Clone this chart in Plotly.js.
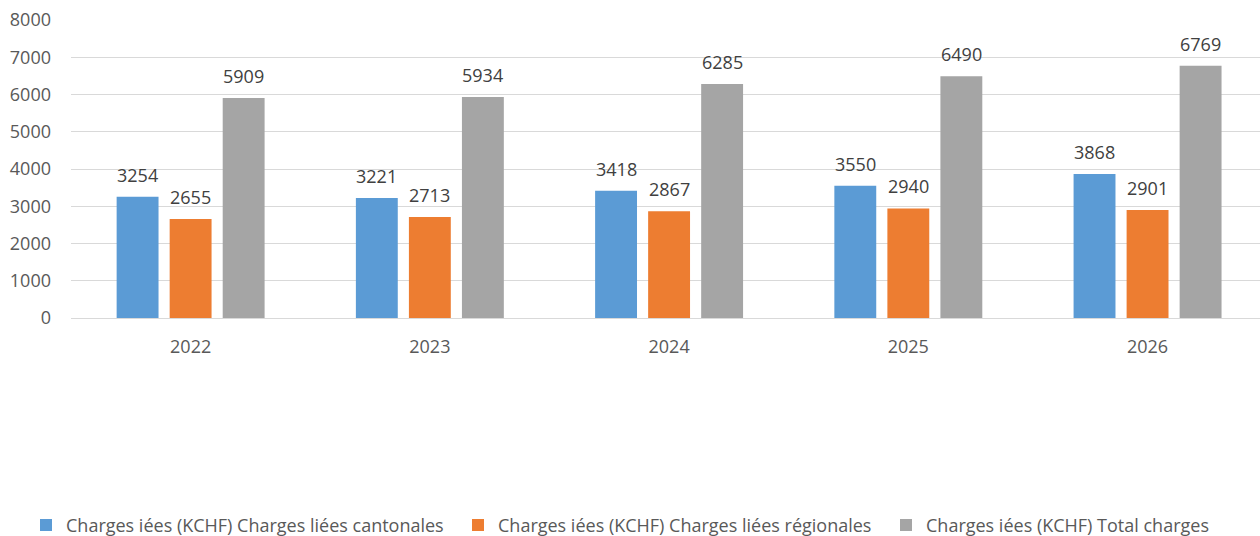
<!DOCTYPE html>
<html>
<head>
<meta charset="utf-8">
<script src="https://cdn.plot.ly/plotly-3.0.1.min.js"></script>
<style>html,body{margin:0;padding:0;background:#fff;}#chart{width:1260px;height:536px;}</style>
</head>
<body>
<div id="chart"></div>
<script>
const categories = ["2022", "2023", "2024", "2025", "2026"];
const cantonales = [3254, 3221, 3418, 3550, 3868];
const regionales = [2655, 2713, 2867, 2940, 2901];
const totalCharges = [5909, 5934, 6285, 6490, 6769];
const seriesNames = [
  "Charges iées (KCHF) Charges liées cantonales",
  "Charges iées (KCHF) Charges liées régionales",
  "Charges iées (KCHF) Total charges"
];
const colors = ["#5b9bd5", "#ed7d31", "#a5a5a5"];
const FONT = "Open Sans, Noto Sans, sans-serif";

const BARGAP = 0.335;
const series = [cantonales, regionales, totalCharges];
const legendIds = ["legend", "legend2", "legend3"];
const traces = series.map((vals, i) => ({
  type: "bar",
  x: categories,
  y: vals,
  name: seriesNames[i],
  legend: legendIds[i],
  marker: {color: colors[i]},
  hoverinfo: "none"
}));

// data labels built from the series arrays, positioned via the category axis
const slot = (1 - BARGAP) / series.length;
const annotations = [];
series.forEach((vals, i) => {
  vals.forEach((v, j) => {
    annotations.push({
      x: j + (i - (series.length - 1) / 2) * slot,
      y: v,
      xref: "x", yref: "y",
      text: String(v),
      showarrow: false,
      yanchor: "bottom",
      yshift: 8,
      font: {family: FONT, size: 18, color: "#404040"}
    });
  });
});

function legendAt(xpx) {
  return {
    orientation: "h",
    xref: "container", yref: "container",
    x: xpx / 1260, xanchor: "left",
    y: 0.02, yanchor: "middle",
    font: {family: FONT, size: 18, color: "#595959"},
    itemwidth: 30,
    bgcolor: "rgba(0,0,0,0)"
  };
}

const layout = {
  width: 1260,
  height: 536,
  margin: {l: 71, r: 0, t: 20, b: 218},
  paper_bgcolor: "#fff",
  plot_bgcolor: "#fff",
  font: {family: FONT, color: "#595959", size: 18},
  barmode: "group",
  bargap: BARGAP,
  bargroupgap: 0.21,
  showlegend: true,
  annotations: annotations,
  legend: legendAt(26),
  legend2: legendAt(458),
  legend3: legendAt(886),
  xaxis: {
    type: "category",
    range: [-0.5, 4.47],
    showgrid: false,
    showline: false,
    ticks: "",
    tickfont: {family: FONT, size: 18, color: "#595959"},
    ticklabelstandoff: 16
  },
  yaxis: {
    range: [0, 8000],
    dtick: 1000,
    showgrid: true,
    gridcolor: "#d9d9d9",
    gridwidth: 1,
    zeroline: true,
    zerolinecolor: "#d9d9d9",
    zerolinewidth: 1,
    showline: false,
    ticks: "",
    tickfont: {family: FONT, size: 18, color: "#595959"},
    ticklabelstandoff: 19
  }
};

Plotly.newPlot("chart", traces, layout, {displayModeBar: false, staticPlot: true});
</script>
</body>
</html>
